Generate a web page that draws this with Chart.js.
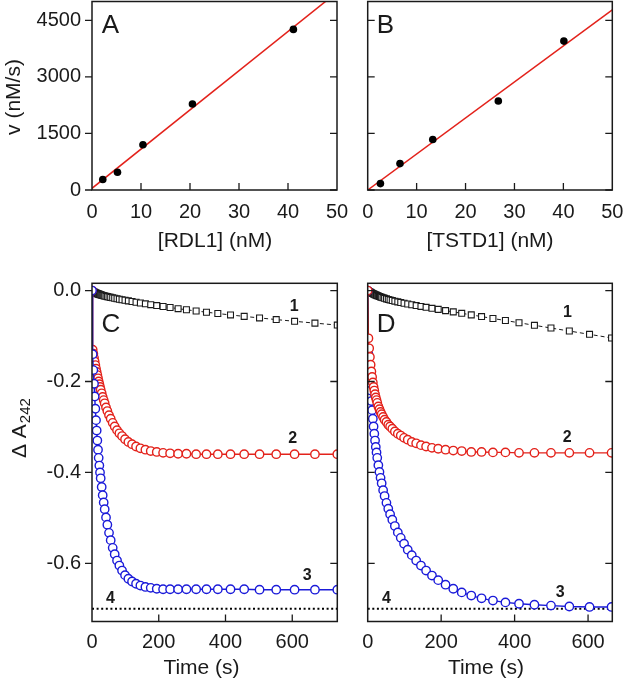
<!DOCTYPE html>
<html>
<head>
<meta charset="utf-8">
<script src="https://cdn.jsdelivr.net/npm/chart.js@4.4.0/dist/chart.umd.min.js"></script>
<style>
  html, body { margin: 0; padding: 0; background: #fff; }
  #fig { position: relative; width: 625px; height: 682px; }
  #fig canvas { position: absolute; left: 0; top: 0; }
</style>
</head>
<body>
<div id="fig">
  <canvas id="panelA" width="625" height="682"></canvas>
  <canvas id="panelB" width="625" height="682"></canvas>
  <canvas id="panelC" width="625" height="682"></canvas>
  <canvas id="panelD" width="625" height="682"></canvas>
</div>
<script>
// A: rate vs [RDL1]
const rdl1Conc = [2.2, 5.2, 10.4, 20.5, 41.1];
const rdl1Rate = [280, 470, 1200, 2280, 4260];
const rdl1FitX = [0, 50];
const rdl1FitY = [45, 5245];

// B: rate vs [TSTD1]
const tstd1Conc = [2.6, 6.6, 13.3, 26.7, 40.1];
const tstd1Rate = [170, 700, 1340, 2360, 3950];
const tstd1FitX = [0, 50];
const tstd1FitY = [0, 4777];

const concTicks = [0, 10, 20, 30, 40, 50];
const rateTicks = [0, 1500, 3000, 4500];

// C: absorbance traces
const timeC = [0, 2, 4, 6, 8, 10, 12, 14, 16, 18, 20, 22, 24, 26, 29, 32, 35, 38, 42, 46, 51, 56, 62, 68,
  75, 82, 90, 99, 109, 120, 132, 145, 160, 176, 194, 213, 234, 258, 283, 312, 343, 377, 415, 456,
  502, 552, 607, 668, 735];
const trace1C = [0, -0.0011, -0.0021, -0.0030, -0.0039, -0.0047, -0.0054, -0.0061, -0.0067, -0.0073,
  -0.0078, -0.0084, -0.0089, -0.0093, -0.0100, -0.0107, -0.0113, -0.0119, -0.0126, -0.0133, -0.0142,
  -0.0150, -0.0159, -0.0169, -0.0179, -0.0190, -0.0201, -0.0213, -0.0227, -0.0241, -0.0257, -0.0273,
  -0.0291, -0.0310, -0.0330, -0.0351, -0.0373, -0.0398, -0.0422, -0.0449, -0.0476, -0.0505, -0.0536,
  -0.0568, -0.0602, -0.0638, -0.0676, -0.0716, -0.0759];
const trace2C = [0, -0.130, -0.139, -0.148, -0.156, -0.164, -0.172, -0.179, -0.186, -0.193, -0.200,
  -0.206, -0.212, -0.218, -0.226, -0.234, -0.241, -0.248, -0.257, -0.265, -0.274, -0.282, -0.291,
  -0.299, -0.307, -0.314, -0.320, -0.327, -0.333, -0.338, -0.343, -0.347, -0.350, -0.353, -0.355,
  -0.357, -0.358, -0.359, -0.359, -0.360, -0.360, -0.360, -0.360, -0.360, -0.360, -0.360, -0.360,
  -0.360, -0.360];
const trace3C = [0, -0.140, -0.175, -0.205, -0.233, -0.260, -0.285, -0.308, -0.330, -0.350, -0.368,
  -0.385, -0.400, -0.413, -0.432, -0.450, -0.466, -0.481, -0.499, -0.515, -0.533, -0.549, -0.566,
  -0.580, -0.594, -0.605, -0.616, -0.626, -0.634, -0.640, -0.645, -0.649, -0.652, -0.654, -0.656,
  -0.657, -0.657, -0.657, -0.657, -0.657, -0.657, -0.657, -0.657, -0.657, -0.658, -0.658, -0.658,
  -0.658, -0.658];
const baseC = [0, 735];

// D: absorbance traces
const timeD = [0, 2, 4, 6, 8, 10, 12, 14, 16, 18, 20, 22, 24, 26, 29, 32, 35, 38, 42, 46, 51, 56, 61, 67,
  74, 82, 90, 99, 109, 120, 132, 145, 159, 175, 192, 212, 233, 256, 282, 310, 341, 375, 412, 454,
  499, 549, 604, 664];
const trace1D = [0, -0.0011, -0.0021, -0.0030, -0.0040, -0.0049, -0.0058, -0.0066, -0.0074, -0.0082,
  -0.0090, -0.0097, -0.0104, -0.0111, -0.0121, -0.0131, -0.0140, -0.0149, -0.0160, -0.0171, -0.0183,
  -0.0195, -0.0206, -0.0219, -0.0233, -0.0249, -0.0263, -0.0278, -0.0295, -0.0312, -0.0330, -0.0349,
  -0.0369, -0.0391, -0.0414, -0.0441, -0.0469, -0.0500, -0.0535, -0.0572, -0.0614, -0.0659, -0.0708,
  -0.0764, -0.0824, -0.0890, -0.0963, -0.1043];
const trace2D = [0, -0.105, -0.127, -0.146, -0.163, -0.178, -0.190, -0.202, -0.212, -0.220, -0.228,
  -0.235, -0.241, -0.247, -0.255, -0.261, -0.267, -0.272, -0.278, -0.284, -0.289, -0.295, -0.299,
  -0.304, -0.310, -0.315, -0.319, -0.324, -0.328, -0.333, -0.336, -0.340, -0.343, -0.346, -0.348,
  -0.350, -0.352, -0.353, -0.355, -0.355, -0.356, -0.356, -0.357, -0.357, -0.357, -0.357, -0.357,
  -0.357];
const trace3D = [0, -0.140, -0.169, -0.196, -0.220, -0.243, -0.263, -0.282, -0.299, -0.315, -0.330,
  -0.344, -0.356, -0.368, -0.384, -0.399, -0.412, -0.424, -0.439, -0.452, -0.467, -0.480, -0.492,
  -0.504, -0.518, -0.532, -0.544, -0.557, -0.570, -0.582, -0.594, -0.605, -0.616, -0.627, -0.637,
  -0.647, -0.656, -0.664, -0.671, -0.677, -0.682, -0.686, -0.689, -0.691, -0.693, -0.695, -0.696,
  -0.696];
const baseD = [0, 666];
const baseLevel = -0.70;

const timeTicks = [0, 200, 400, 600];
const absTicks = [0, -0.2, -0.4, -0.6];

const INK = '#1a1a1a';
const RED = '#e3221b';
const BLUE = '#1b1bd9';
const FONT = '"Liberation Sans", Arial, sans-serif';

Chart.defaults.font.family = FONT;
Chart.defaults.color = INK;
Chart.defaults.animation = false;

const pts = (xs, ys) => xs.map((x, i) => ({ x, y: Array.isArray(ys) ? ys[i] : ys }));

// fixed axis box sizes, so the plot box lands where the reference has it
function axis(min, max, ticks, pad, show, size, fmt) {
  return {
    type: 'linear', min, max,
    afterBuildTicks: s => { s.ticks = ticks.map(v => ({ value: v })); },
    afterFit: s => {
      if (s.isHorizontal()) s.height = size; else s.width = size;
      s.paddingTop = s.paddingBottom = s.paddingLeft = s.paddingRight = 0;
    },
    grid: { display: false, drawTicks: false },
    border: { display: false },
    ticks: { display: show, autoSkip: false, maxRotation: 0, padding: pad,
      font: { size: 20 }, color: INK, callback: fmt || (v => String(v)) }
  };
}

const panelPlugin = {
  id: 'panel',
  afterDraw(chart, args, o) {
    const { ctx, chartArea: a } = chart;
    const x = chart.scales.x, y = chart.scales.y;
    ctx.save();
    ctx.strokeStyle = INK;
    ctx.lineWidth = 1.5;
    ctx.strokeRect(a.left, a.top, a.right - a.left, a.bottom - a.top);
    ctx.lineWidth = 1.3;
    ctx.beginPath();
    o.xTicks.forEach(v => {
      const px = x.getPixelForValue(v);
      if (px > a.left + 1 && px < a.right - 1) { ctx.moveTo(px, a.bottom); ctx.lineTo(px, a.bottom - 7); }
    });
    o.yTicks.forEach(v => {
      const py = y.getPixelForValue(v);
      ctx.moveTo(a.right, py); ctx.lineTo(a.right - 7, py);
      ctx.moveTo(a.left, py); ctx.lineTo(a.left + (o.leftOut ? -7 : 7), py);
    });
    ctx.stroke();

    ctx.fillStyle = INK;
    // panel letter
    ctx.font = '26px ' + FONT;
    ctx.textAlign = 'left';
    ctx.textBaseline = 'alphabetic';
    ctx.fillText(o.letter, a.left + o.letterAt[0], a.top + o.letterAt[1]);

    // x title
    ctx.font = '21px ' + FONT;
    ctx.textAlign = 'center';
    ctx.textBaseline = 'middle';
    ctx.fillText(o.xTitle[0], o.xTitle[1], o.xTitle[2]);

    // y title
    if (o.yTitle) {
      ctx.save();
      ctx.translate(o.yTitle[1], o.yTitle[2]);
      ctx.rotate(-Math.PI / 2);
      ctx.fillText(o.yTitle[0], 0, 0);
      ctx.restore();
    }
    if (o.ySubTitle) {
      const [main, sub, bx, by] = o.ySubTitle;
      ctx.save();
      ctx.translate(bx, by);
      ctx.rotate(-Math.PI / 2);
      ctx.textAlign = 'left';
      ctx.textBaseline = 'alphabetic';
      ctx.font = '21px ' + FONT;
      ctx.fillText(main, 0, 0);
      const w = ctx.measureText(main).width;
      ctx.font = '15px ' + FONT;
      ctx.fillText(sub, w + 1, 4);
      ctx.restore();
    }

    // curve numbers
    if (o.marks) {
      ctx.font = 'bold 16px ' + FONT;
      ctx.textAlign = 'center';
      ctx.textBaseline = 'alphabetic';
      o.marks.forEach(m => ctx.fillText(m[0], x.getPixelForValue(m[1]), y.getPixelForValue(m[2])));
    }
    ctx.restore();
  }
};

const baseOpts = {
  responsive: false,
  devicePixelRatio: 1,
  events: [],
  plugins: { legend: { display: false }, tooltip: { enabled: false } }
};

// box = [left, top, right, bottom] of the plot area in page pixels
function ratePanel(id, conc, rate, fitX, fitY, box, showY, panel) {
  new Chart(document.getElementById(id), {
    type: 'scatter',
    data: {
      datasets: [
        { data: pts(conc, rate), pointRadius: 3.8, pointBackgroundColor: '#000', pointBorderWidth: 0 },
        { data: pts(fitX, fitY), showLine: true, pointRadius: 0, borderColor: RED, borderWidth: 1.5, clip: 0 }
      ]
    },
    options: Object.assign({}, baseOpts, {
      layout: { padding: { left: 0, bottom: 0, top: box[1], right: 625 - box[2] }, autoPadding: false },
      scales: {
        x: axis(0, 50, concTicks, 10, true, 682 - box[3]),
        y: axis(0, 5000, rateTicks, 11, showY, box[0])
      },
      plugins: Object.assign({}, baseOpts.plugins, { panel })
    }),
    plugins: [panelPlugin]
  });
}

function tracePanel(id, t, tr1, tr2, tr3, base, xmax, box, showY, panel, redOnTop) {
  const black = { data: pts(t, tr1), showLine: true, borderColor: INK, borderWidth: 1, borderDash: [4, 3],
    pointStyle: 'rect', pointRadius: 4.2, pointBorderWidth: 1.1, pointBorderColor: INK, pointBackgroundColor: '#fff' };
  const red = { data: pts(t, tr2), showLine: true, borderColor: RED, borderWidth: 1.4,
    pointRadius: 4.2, pointBorderWidth: 1.4, pointBorderColor: RED, pointBackgroundColor: '#fff' };
  const blue = { data: pts(t, tr3), showLine: true, borderColor: BLUE, borderWidth: 1.4,
    pointRadius: 4.2, pointBorderWidth: 1.4, pointBorderColor: BLUE, pointBackgroundColor: '#fff' };
  const dotted = { data: pts(base, baseLevel), showLine: true, borderColor: '#000', borderWidth: 2,
    borderDash: [2, 2.6], pointRadius: 0 };
  new Chart(document.getElementById(id), {
    type: 'scatter',
    data: { datasets: redOnTop ? [red, blue, black, dotted] : [blue, red, black, dotted] },
    options: Object.assign({}, baseOpts, {
      layout: { padding: { left: 0, bottom: 0, top: box[1], right: 625 - box[2] }, autoPadding: false },
      scales: {
        x: axis(0, xmax, timeTicks, 8.5, true, 682 - box[3]),
        y: axis(-0.728, 0.016, absTicks, 11, showY, box[0], v => v.toFixed(1))
      },
      plugins: Object.assign({}, baseOpts.plugins, { panel })
    }),
    plugins: [panelPlugin]
  });
}

ratePanel('panelA', rdl1Conc, rdl1Rate, rdl1FitX, rdl1FitY, [92, 1.5, 337, 190], true,
  { letter: 'A', letterAt: [9.7, 31.5], xTicks: concTicks, yTicks: rateTicks, leftOut: true,
    xTitle: ['[RDL1] (nM)', 215, 241], yTitle: ['v (nM/s)', 14, 97] });

ratePanel('panelB', tstd1Conc, tstd1Rate, tstd1FitX, tstd1FitY, [367.7, 1.5, 612.3, 190], false,
  { letter: 'B', letterAt: [9, 31.5], xTicks: concTicks, yTicks: rateTicks, leftOut: false,
    xTitle: ['[TSTD1] (nM)', 490, 241] });

tracePanel('panelC', timeC, trace1C, trace2C, trace3C, baseC, 735, [92, 283.3, 337.3, 621.5], true,
  { letter: 'C', letterAt: [9.4, 48.4], xTicks: timeTicks, yTicks: absTicks, leftOut: true,
    xTitle: ['Time (s)', 201.5, 668], ySubTitle: ['\u0394 A', '242', 26, 458],
    marks: [['1', 606, -0.045], ['2', 601, -0.335], ['3', 645, -0.637], ['4', 55, -0.687]] }, false);

tracePanel('panelD', timeD, trace1D, trace2D, trace3D, baseD, 666, [367.7, 283.3, 612.3, 621.5], false,
  { letter: 'D', letterAt: [9, 48.4], xTicks: timeTicks, yTicks: absTicks, leftOut: false,
    xTitle: ['Time (s)', 486, 668],
    marks: [['1', 544, -0.058], ['2', 543, -0.333], ['3', 524, -0.674], ['4', 51, -0.687]] }, true);
</script>
</body>
</html>
